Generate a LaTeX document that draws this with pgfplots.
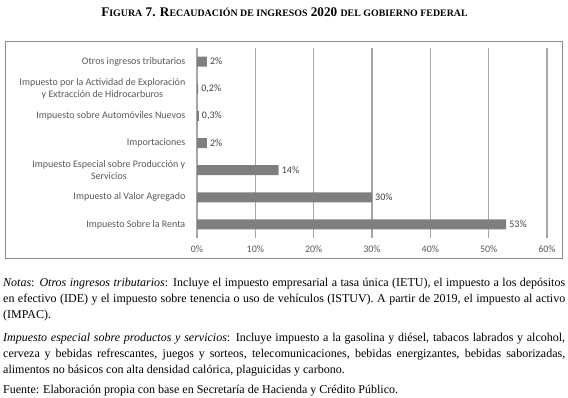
\documentclass[border=0pt]{standalone}
\usepackage{fontspec}
\setmainfont{Liberation Serif}
\newfontfamily\calf{Carlito}
\usepackage{pgfplots}
\pgfplotsset{compat=1.18}
\definecolor{barc}{HTML}{7F7F7F}
\definecolor{gridc}{HTML}{A6A6A6}
\definecolor{labc}{HTML}{595959}
\definecolor{valc}{HTML}{404040}
\definecolor{framec}{HTML}{8C8C8C}
\newcommand\sm[1]{{\fontsize{9.9}{9.9}\selectfont #1}}
\begin{document}
\begin{tikzpicture}
\useasboundingbox (0,0) rectangle (568pt,-398pt);
\node[font=\fontsize{13.2}{13.2}\selectfont\bfseries, inner sep=0pt] at (284.5pt,-12pt) {F\sm{IGURA} 7. R\sm{ECAUDACIÓN DE INGRESOS} 2020 \sm{DEL GOBIERNO FEDERAL}};
\draw[framec, line width=0.8pt] (5pt,-41pt) rectangle (562pt,-258pt);
\begin{axis}[
  at={(197pt,-238pt)}, anchor=south west,
  scale only axis, width=350pt, height=190pt,
  xmin=0, xmax=60, ymin=-0.5, ymax=6.5,
  axis line style={draw=none},
  xmajorgrids, grid style={gridc, line width=1.6pt},
  major tick length=0pt,
  xtick={0,10,...,60},
  /pgf/number format/assume math mode=true,
  xticklabel={\pgfmathprintnumber{\tick}\%},
  xticklabel style={font=\calf\fontsize{10}{12}\selectfont, text=labc, inner sep=0pt, yshift=-7.5pt},
  ytick={0,...,6},
  yticklabels={{Impuesto Sobre la Renta},{Impuesto al Valor Agregado},{Impuesto Especial sobre Producción y\\Servicios},{Importaciones},{Impuesto sobre Automóviles Nuevos},{Impuesto por la Actividad de Exploración\\y Extracción de Hidrocarburos},{Otros ingresos tributarios}},
  yticklabel style={font=\calf\fontsize{10}{12.5}\selectfont, text=labc, align=center, inner sep=0pt, xshift=-11.5pt},
  clip=false,
]
\addplot[xbar, fill=barc, draw=none, bar width=10pt,
  nodes near coords, point meta=explicit symbolic,
  nodes near coords style={font=\calf\fontsize{10}{12}\selectfont, text=valc, anchor=west, inner sep=3pt}]
coordinates {
(53,0) [53\%]
(30,1) [30\%]
(14,2) [14\%]
(1.7,3) [2\%]
(0.3,4) [0,3\%]
(0.2,5) [0,2\%]
(1.7,6) [2\%]
};
\end{axis}
\node[anchor=north west, text width=562pt, align=justify, inner sep=0pt, font=\fontsize{12}{16}\selectfont] at (3pt,-278pt) {\textit{Notas}: \textit{Otros ingresos tributarios}: Incluye el impuesto empresarial a tasa única (IETU), el impuesto a los depósitos\linebreak en efectivo (IDE) y el impuesto sobre tenencia o uso de vehículos (ISTUV). A partir de 2019, el impuesto al activo\linebreak (IMPAC).};
\node[anchor=north west, text width=562pt, align=justify, inner sep=0pt, font=\fontsize{12}{16}\selectfont] at (3pt,-333pt) {\textit{Impuesto especial sobre productos y servicios}: Incluye impuesto a la gasolina y diésel, tabacos labrados y alcohol,\linebreak cerveza y bebidas refrescantes, juegos y sorteos, telecomunicaciones, bebidas energizantes, bebidas saborizadas,\linebreak alimentos no básicos con alta densidad calórica, plaguicidas y carbono.};
\node[anchor=north west, inner sep=0pt, font=\fontsize{12}{16}\selectfont] at (3pt,-385pt) {Fuente: Elaboración propia con base en Secretaría de Hacienda y Crédito Público.};
\end{tikzpicture}
\end{document}
